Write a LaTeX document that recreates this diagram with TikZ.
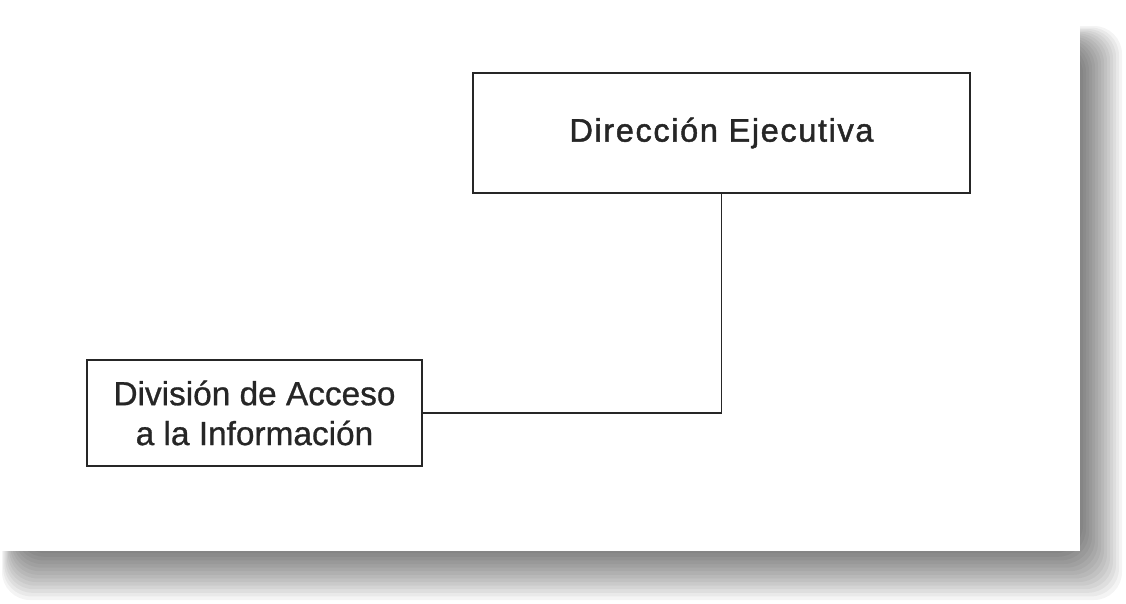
\documentclass[tikz,border=0pt]{standalone}
\usepackage{fontspec}
\newfontfamily\arialfont[FakeBold=0.8]{Liberation Sans}
\newfontfamily\arialwide[LetterSpace=5,FakeBold=1.4]{Liberation Sans}
\usetikzlibrary{positioning}

\tikzset{
  unitbox/.style={draw=black!85, line width=1.4pt, fill=white, align=center, inner sep=0pt, text=black!85},
}

\begin{document}
\begin{tikzpicture}[x=0.02cm, y=-0.02cm]
  \useasboundingbox (0,0) rectangle (1126,603);
  \fill[white] (0,0) rectangle (1126,603);

  % shadow of the sheet
  \foreach \i in {0,...,13}
    {
      \fill[black, opacity=0.045, rounded corners=16] (2+\i*1.2,26+\i*1.5) rectangle (1122-\i*3,600-\i*3.6);
    }
  \fill[white] (0,24) rectangle (1080,551);

  \node[unitbox, minimum width=9.94cm, minimum height=2.4cm,
        font=\fontsize{18.5}{22}\arialwide] (exec) at (721.5,133) {Dirección Ejecutiva};
  \node[unitbox, minimum width=6.7cm, minimum height=2.12cm,
        font=\fontsize{19}{22.7}\arialfont] (div) at (254.5,413) {División de Acceso\\a la Información};

  \draw[black!85, line width=1.1pt] (exec.south) |- (div.east);
\end{tikzpicture}
\end{document}
